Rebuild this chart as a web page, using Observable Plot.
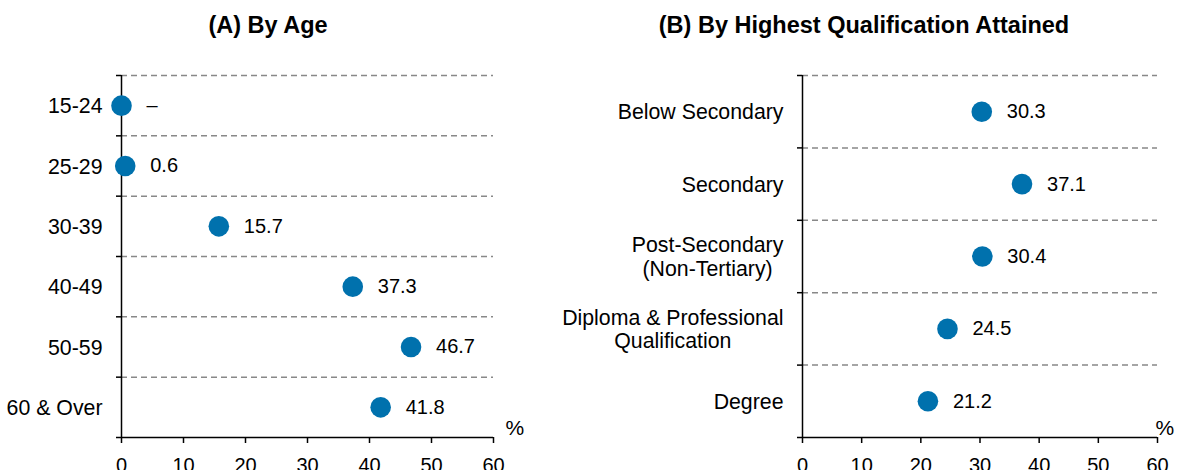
<!DOCTYPE html>
<html>
<head>
<meta charset="utf-8">
<script src="https://cdn.jsdelivr.net/npm/d3@7"></script>
<script src="https://cdn.jsdelivr.net/npm/@observablehq/plot@0.6"></script>
<style>
  html, body { margin: 0; padding: 0; background: #fff; }
  #wrap { position: relative; width: 1179px; height: 470px; overflow: hidden; font-family: "Liberation Sans", Arial, sans-serif; }
  .title { position: absolute; width: 600px; text-align: center; font-weight: bold; font-size: 23.5px; line-height: 23.5px; color: #000; }
  .panel { position: absolute; top: 0; }
</style>
</head>
<body>
<div id="wrap">
  <div class="title" id="tA" style="left:-32px; top:14px;">(A) By Age</div>
  <div class="title" id="tB" style="left:564px; top:14px;">(B) By Highest Qualification Attained</div>
  <div class="panel" id="pA" style="left:0px;"></div>
  <div class="panel" id="pB" style="left:590px;"></div>
</div>
<script>
const ageCategories = ["15-24", "25-29", "30-39", "40-49", "50-59", "60 & Over"];
const ageValues = [0, 0.6, 15.7, 37.3, 46.7, 41.8];
const ageLabels = ["–", "0.6", "15.7", "37.3", "46.7", "41.8"];

const qualCategories = ["Below Secondary", "Secondary", "Post-Secondary\n(Non-Tertiary)", "Diploma & Professional\nQualification", "Degree"];
const qualValues = [30.3, 37.1, 30.4, 24.5, 21.2];
const qualLabels = ["30.3", "37.1", "30.4", "24.5", "21.2"];

const xTicks = [0, 10, 20, 30, 40, 50, 60];
const xDomain = [0, 60];

function panel({cats, values, labels, width, marginLeft, marginRight, pctDx}) {
  const n = cats.length;
  const data = cats.map((c, i) => ({cat: c, i, value: values[i], label: labels[i]}));
  return Plot.plot({
    width, height: 470,
    marginTop: 75, marginBottom: 33, marginLeft, marginRight,
    style: {fontFamily: "'Liberation Sans', Arial, sans-serif", fontSize: "20px", color: "#000", background: "transparent", overflow: "visible"},
    x: {domain: xDomain, axis: null},
    y: {domain: [n, 0], axis: null},
    marks: [
      Plot.ruleY(d3.range(n), {stroke: "#888", strokeDasharray: "6,4", strokeWidth: 1.5}),
      Plot.ruleX([0], {stroke: "#000", strokeWidth: 1.5}),
      Plot.ruleY([n], {stroke: "#000", strokeWidth: 1.5}),
      Plot.axisY({ticks: d3.range(n + 1), tickSize: 5, tickFormat: () => "", stroke: "#000", strokeWidth: 1.5}),
      Plot.axisX({ticks: xTicks, tickSize: 6, tickPadding: 14, label: null, fontSize: 20, stroke: "#000", strokeWidth: 1.5, fill: "#000"}),
      Plot.text(data, {x: 0, y: d => d.i + 0.5, text: "cat", textAnchor: "end", dx: -19, lineAnchor: "middle", lineHeight: 1.1, fontSize: 21.3, className: "cat-labels", fill: "#000"}),
      Plot.dot(data, {x: "value", y: d => d.i + 0.5, r: 10.3, fill: "#0071AD", stroke: "none"}),
      Plot.text(data, {x: "value", y: d => d.i + 0.5, text: "label", textAnchor: "start", dx: 25, fill: "#000"}),
      Plot.text(["%"], {text: d => d, frameAnchor: "bottom-right", textAnchor: "start", lineAnchor: "bottom", dx: pctDx, dy: -3, fontSize: 21, fill: "#000"})
    ]
  });
}

document.getElementById("pA").append(panel({cats: ageCategories, values: ageValues, labels: ageLabels, width: 590, marginLeft: 121, marginRight: 97, pctDx: 12}));
document.getElementById("pB").append(panel({cats: qualCategories, values: qualValues, labels: qualLabels, width: 589, marginLeft: 212, marginRight: 22, pctDx: -2}));

// center-align multi-line category labels while keeping right edge at the axis
document.querySelectorAll("g.cat-labels text").forEach(t => {
  const spans = t.querySelectorAll("tspan");
  if (spans.length > 1) {
    const w = t.getBBox().width;
    t.setAttribute("text-anchor", "middle");
    spans.forEach(s => s.setAttribute("x", -w / 2));
  }
});
</script>
</body>
</html>
